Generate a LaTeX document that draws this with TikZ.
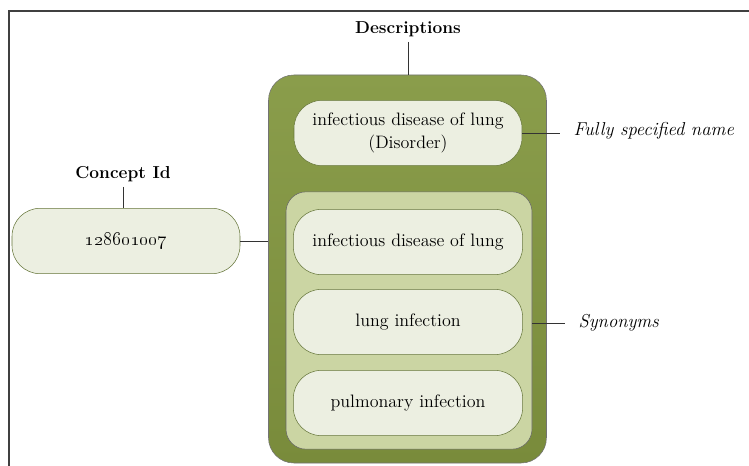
\documentclass[tikz,border=0pt]{standalone}
\usetikzlibrary{positioning}
\definecolor{olivetop}{HTML}{8A9D4B}
\definecolor{olivebot}{HTML}{798B3B}
\definecolor{synfill}{HTML}{CBD5A3}
\definecolor{termfill}{HTML}{ECEFE1}
\definecolor{termline}{HTML}{66763A}
\tikzset{
  term/.style={draw=termline, fill=termfill, rounded corners=21pt,
    minimum width=171pt, minimum height=49pt, align=center,
    font=\fontsize{13.5}{17}\selectfont},
  heading/.style={font=\fontsize{13}{15}\selectfont\bfseries},
  side/.style={font=\fontsize{14}{16}\selectfont\itshape, anchor=west, inner xsep=10pt},
  link/.style={draw=black!80, line width=0.6pt}
}
\begin{document}
\begin{tikzpicture}[x=0.75pt,y=-0.75pt]
    \useasboundingbox (0,0) rectangle (749,466);
    \fill[white] (0,0) rectangle (749,466);
    \draw[black!75, line width=1.1pt] (749,11) -- (9,11) -- (9,466);

    % description block
    \node[draw=black!55, top color=olivetop, bottom color=olivebot, rounded corners=19pt,
          minimum width=208.5pt, minimum height=291pt] (desc) at (407.5,269) {};
    \node[draw=black!60, fill=synfill, rounded corners=15pt,
          minimum width=184.5pt, minimum height=193pt] (syn) at (409,320.5) {};

    \node[term] (fsn) at (408,133) {infectious disease of lung\\(Disorder)};
    \node[term, minimum width=172pt] (syn1) at (408,242) {infectious disease of lung};
    \node[term, minimum width=172pt] (syn2) at (408,322) {lung infection};
    \node[term, minimum width=172pt] (syn3) at (408,403) {pulmonary infection};

    \node[term, font=\fontsize{15.5}{17}\selectfont] (cid) at (126,241) {\oldstylenums{128601007}};

    \node[heading, anchor=south] (desctitle) at (408,42) {Descriptions};
    \node[heading, anchor=south] (cidtitle) at (123,187) {Concept Id};
    \node[side] (fsnlabel) at (560,131) {Fully specified name};
    \node[side] (synlabel) at (565,323) {Synonyms};

    % connectors
    \draw[link] (desctitle.south) -- (desctitle.south |- desc.north);
    \draw[link] (cidtitle.south) -- (cidtitle.south |- cid.north);
    \draw[link] (cid.east) -- (desc.west |- cid.east);
    \draw[link] (fsn.east) -- (fsn.east -| fsnlabel.west);
    \draw[link] (syn.east |- synlabel.west) -- (synlabel.west);
\end{tikzpicture}
\end{document}
